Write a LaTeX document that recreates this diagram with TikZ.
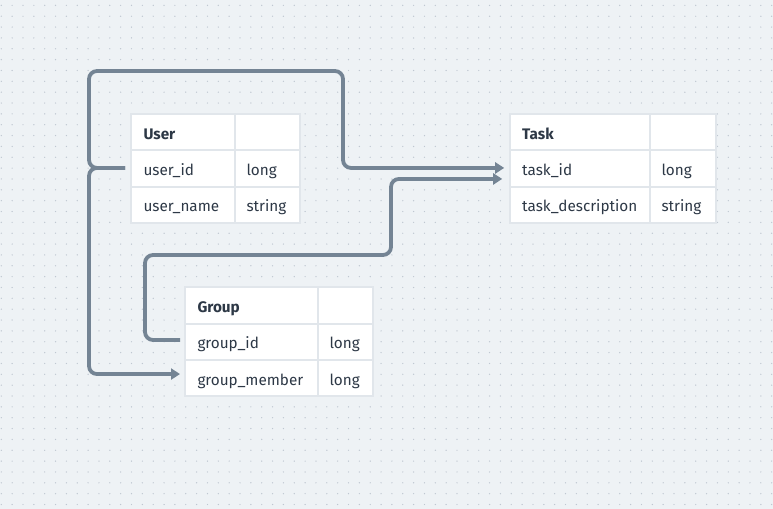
\documentclass[tikz,border=0pt]{standalone}
\usepackage{fontspec}
\setmainfont{Fira Sans}
\usepackage{tikz}
\usetikzlibrary{arrows.meta,positioning}
\definecolor{bgc}{HTML}{EEF2F5}
\definecolor{dotc}{HTML}{BFC7D1}
\definecolor{gapc}{HTML}{E1E6EB}
\definecolor{linec}{HTML}{748494}
\definecolor{txtc}{HTML}{2D3846}
\newlength\pxu
\setlength\pxu{0.02cm}
\tikzset{
  cell/.style={fill=white, draw=gapc, line width=2\pxu, anchor=north west, outer sep=0pt,
    inner ysep=0pt, minimum height=36.3\pxu, text height=0.95em, text depth=0.14em,
    align=left, text=txtc, font=\fontsize{8.7pt}{10pt}\selectfont},
  cola/.style={cell, inner xsep=12.5\pxu, text width=#1\pxu},
  colb/.style={cell, inner xsep=11.5\pxu, text width=#1\pxu},
  conn/.style={draw=linec, line width=3.8\pxu, rounded corners=8\pxu},
  tip/.style={-{Triangle[length=0.18cm,width=0.22cm]}}
}
\begin{document}
\begin{tikzpicture}[x=0.02cm,y=-0.02cm,node distance=0pt]
\fill[bgc] (0,0) rectangle (773,509);
\useasboundingbox (0,0) rectangle (773,509);
\foreach \i in {0,...,71}
{ \foreach \j in {0,...,46}
  { \fill[dotc] (1.3+\i*10.85,5.4+\j*10.85) circle (0.7);
  }
}
% User
\node[cola=79] (user) at (131,114) {\textbf{User}};
\node[colb=42,right=of user] (usert) {};
\node[cola=79,below=of user] (userid) {user\_id};
\node[colb=42,right=of userid] (useridt) {long};
\node[cola=79,below=of userid] (username) {user\_name};
\node[colb=42,right=of username] (usernamet) {string};
% Task
\node[cola=115.3] (task) at (509.7,114) {\textbf{Task}};
\node[colb=43,right=of task] (taskt) {};
\node[cola=115.3,below=of task] (taskid) {task\_id};
\node[colb=43,right=of taskid] (taskidt) {long};
\node[cola=115.3,below=of taskid] (taskdesc) {task\_description};
\node[colb=43,right=of taskdesc] (taskdesct) {string};
% Group
\node[cola=108] (group) at (185,287.3) {\textbf{Group}};
\node[colb=32,right=of group] (groupt) {};
\node[cola=108,below=of group] (groupid) {group\_id};
\node[colb=32,right=of groupid] (groupidt) {long};
\node[cola=108,below=of groupid] (groupmem) {group\_member};
\node[colb=32,right=of groupmem] (groupmemt) {long};
% connectors
\coordinate (uidout) at ([xshift=-6\pxu,yshift=0.5\pxu]userid.west);
\coordinate (gidout) at ([xshift=-5\pxu,yshift=1.75\pxu]groupid.west);
\coordinate (tidin) at ([xshift=-5.5\pxu,yshift=0.5\pxu]taskid.west);
\coordinate (tidin2) at ([xshift=-7.5\pxu,yshift=-10.5\pxu]taskid.west);
\coordinate (gmin) at ([xshift=-5\pxu,yshift=4\pxu]groupmem.west);
\draw[conn,tip] (uidout) -| (89,71) -- (343,71) |- (tidin);
\draw[conn,tip] (uidout) -| ([xshift=-91\pxu]gmin) -- (gmin);
\draw[conn,tip] (gidout) -| (145,255) -- (391,255) |- (tidin2);
\end{tikzpicture}
\end{document}
